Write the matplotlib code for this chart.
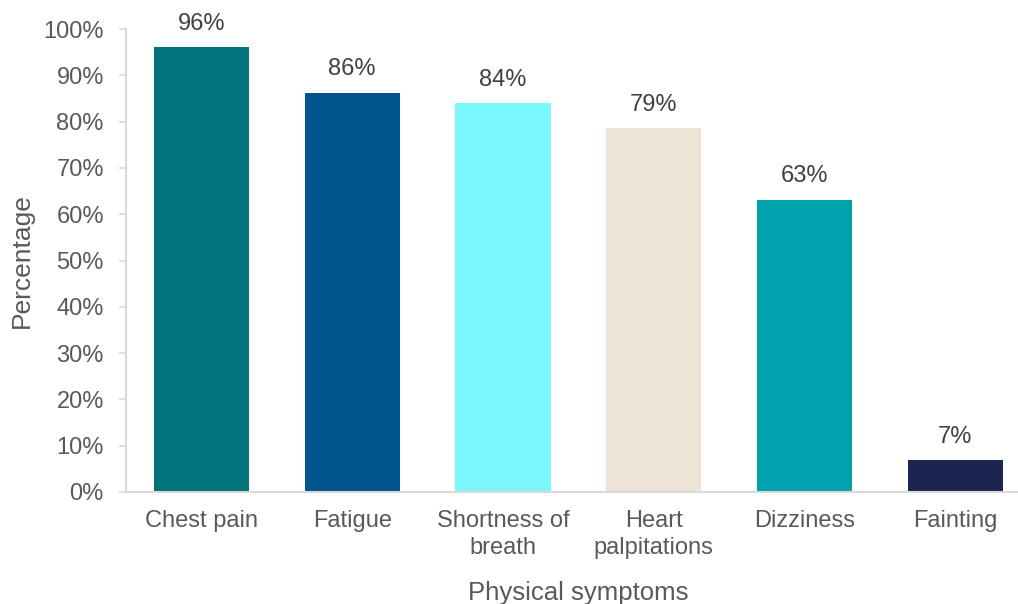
import matplotlib
matplotlib.use("Agg")
import matplotlib.pyplot as plt
from matplotlib.ticker import PercentFormatter

symptoms = ["Chest pain", "Fatigue", "Shortness of\nbreath", "Heart\npalpitations", "Dizziness", "Fainting"]
percent = [96.1, 86.2, 84.0, 78.6, 63.1, 6.9]
bar_colors = ["#00747A", "#00558C", "#7AF7FC", "#EDE3D6", "#00A3AD", "#1C2550"]

plt.rcParams['font.family'] = ['Liberation Sans', 'DejaVu Sans']

fig = plt.figure(figsize=(10.18, 6.04), dpi=100)
ax = fig.add_axes([126 / 1018, 112 / 604, 892 / 1018, 463 / 604])

x = range(len(symptoms))
bars = ax.bar(x, percent, width=0.63, color=bar_colors)

for b, v in zip(bars, percent):
    ax.annotate(f"{v:.0f}%", (b.get_x() + b.get_width() / 2, v),
                xytext=(0, 9), textcoords="offset points",
                ha="center", va="bottom", fontsize=17, color="#404040")

ax.set_xlim(-0.5, 892 / 150.8 - 0.5)
ax.set_ylim(0, 100)
ax.set_yticks(range(0, 101, 10))
ax.yaxis.set_major_formatter(PercentFormatter(decimals=0))
ax.set_xticks(list(x))
ax.set_xticklabels(symptoms, linespacing=1.3)

for side in ["top", "right"]:
    ax.spines[side].set_visible(False)
for side in ["left", "bottom"]:
    ax.spines[side].set_color("#D9D9D9")
    ax.spines[side].set_linewidth(1.5)

ax.tick_params(axis="y", length=5, width=1.2, color="#D9D9D9", labelsize=17,
               labelcolor="#595959", pad=11)
ax.tick_params(axis="x", length=0, labelsize=17, labelcolor="#595959", pad=13)

ax.set_ylabel("Percentage", fontsize=19, color="#595959", labelpad=7)
ax.set_xlabel("Physical symptoms", fontsize=18.5, color="#595959")
ax.xaxis.set_label_coords((578 - 126) / 892, -(581 - 492) / 463)

fig.savefig("out.png", dpi=100)
